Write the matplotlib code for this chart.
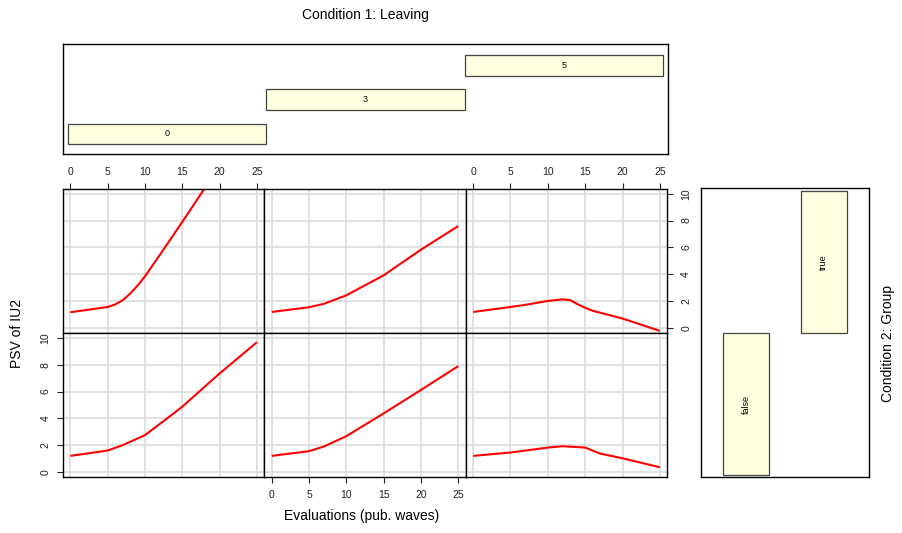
"""
Conditioning plot of PSV of IU2 against evaluations (pub. waves),
split by Leaving (columns) and Group (rows), drawn in the style of R's coplot.
"""

import matplotlib
matplotlib.use("Agg")
import matplotlib.pyplot as plt
from matplotlib.patches import Rectangle

plt.rcParams.update({
    'font.family': ['Liberation Sans', 'DejaVu Sans'],
    'axes.linewidth': 1.0,
})

W, H = 903, 533

# conditioning levels
leaving_levels = ["0", "3", "5"]
group_levels = ["false", "true"]

# intervals of the conditioning bars
leaving_start = [0, 1, 2]
leaving_end = [1, 2, 3]
group_start = [0, 1]
group_end = [1, 2]

# fitted curves, Group = true
x_true_0 = [0, 5, 6, 7, 8, 9, 10, 12, 15, 18, 25]
y_true_0 = [1.17, 1.56, 1.75, 2.06, 2.55, 3.15, 3.85, 5.45, 7.9, 10.4, 16.0]
x_true_3 = [0, 5, 7, 10, 15, 20, 25]
y_true_3 = [1.19, 1.54, 1.8, 2.43, 3.92, 5.83, 7.59]
x_true_5 = [0, 5, 7, 10, 12, 13, 14, 15, 16, 20, 25]
y_true_5 = [1.19, 1.56, 1.72, 2.01, 2.13, 2.07, 1.76, 1.5, 1.28, 0.7, -0.22]

# fitted curves, Group = false
x_false_0 = [0, 5, 7, 10, 12.5, 15, 20, 25]
y_false_0 = [1.2, 1.6, 2.0, 2.75, 3.8, 4.87, 7.35, 9.68]
x_false_3 = [0, 5, 7, 10, 15, 20, 25]
y_false_3 = [1.2, 1.55, 1.9, 2.67, 4.37, 6.12, 7.9]
x_false_5 = [0, 5, 10, 12, 15, 17, 20, 25]
y_false_5 = [1.2, 1.45, 1.82, 1.92, 1.82, 1.37, 1.02, 0.35]

curves = {
    (0, 0): (x_true_0, y_true_0), (0, 1): (x_true_3, y_true_3), (0, 2): (x_true_5, y_true_5),
    (1, 0): (x_false_0, y_false_0), (1, 1): (x_false_3, y_false_3), (1, 2): (x_false_5, y_false_5),
}

bar_fill = '#FFFFE0'
bar_edge = '#444444'
tick_size = 7.5

fig = plt.figure(figsize=(W / 100, H / 100), dpi=100)


def px_axes(left, top, right, bottom):
    return fig.add_axes([left / W, 1 - bottom / H, (right - left) / W, (bottom - top) / H])


col_edges = [63, 264.3, 465.7, 667.3]
row_edges = [189, 333.3, 477.3]

for (r, c), (xs, ys) in curves.items():
    ax = px_axes(col_edges[c], row_edges[r], col_edges[c + 1], row_edges[r + 1])
    ax.set_xlim(-1, 26)
    ax.set_ylim(-0.4, 10.35)
    ax.set_xticks(range(0, 26, 5))
    ax.set_yticks(range(0, 11, 2))
    ax.grid(True, color='#d9d9d9', lw=1.1)
    ax.set_axisbelow(True)
    ax.plot(xs, ys, color='red', lw=1.5, solid_capstyle='butt')
    ax.tick_params(axis='both', length=0, labelbottom=False, labelleft=False,
                   labelsize=tick_size, width=0.8, colors='#222222')

    if r == 0 and c in (0, 2):
        ax.tick_params(axis='x', top=True, bottom=False, labeltop=True, length=4.5, pad=4)
    if r == 1 and c == 1:
        ax.tick_params(axis='x', bottom=True, top=False, labelbottom=True, length=4.5, pad=5)
    if r == 1 and c == 0:
        ax.tick_params(axis='y', left=True, right=False, labelleft=True, length=4.5, pad=4.5,
                       labelrotation=90)
        for lab in ax.get_yticklabels():
            lab.set_va('center')
    if r == 0 and c == 2:
        ax.tick_params(axis='y', right=True, left=False, labelright=True, labelleft=False,
                       length=4.5, pad=5.5, labelrotation=90)
        for lab in ax.get_yticklabels():
            lab.set_va('center')

# top conditioning panel: Leaving
ax_top = px_axes(63, 44, 667.7, 154.3)
ax_top.set_xlim(-0.023, 3.023)
ax_top.set_ylim(0.4, 3.63)
ax_top.set_xticks([])
ax_top.set_yticks([])
for i, lab in enumerate(leaving_levels):
    ax_top.add_patch(Rectangle((leaving_start[i], i + 0.7), leaving_end[i] - leaving_start[i], 0.6,
                               fc=bar_fill, ec=bar_edge, lw=0.9))
    ax_top.text((leaving_start[i] + leaving_end[i]) / 2, i + 1, lab,
                ha='center', va='center', fontsize=6.5)

# right conditioning panel: Group
ax_right = px_axes(701, 188.3, 869, 477.3)
ax_right.set_xlim(0.42, 2.58)
ax_right.set_ylim(-0.016, 2.019)
ax_right.set_xticks([])
ax_right.set_yticks([])
for i, lab in enumerate(group_levels):
    ax_right.add_patch(Rectangle((i + 0.7, group_start[i]), 0.6, group_end[i] - group_start[i],
                                 fc=bar_fill, ec=bar_edge, lw=0.9))
    ax_right.text(i + 1, (group_start[i] + group_end[i]) / 2, lab,
                  ha='center', va='center', rotation=90, fontsize=6.5)

fig.text(365 / W, 1 - 15 / H, "Condition 1: Leaving", ha='center', va='center', fontsize=10)
fig.text(362 / W, 1 - 516 / H, "Evaluations (pub. waves)", ha='center', va='center', fontsize=10)
fig.text(17 / W, 1 - 333 / H, "PSV of IU2", ha='center', va='center', rotation=90, fontsize=10)
fig.text(888 / W, 1 - 343 / H, "Condition 2: Group", ha='center', va='center', rotation=90,
         fontsize=10)

fig.savefig("out.png", dpi=100)
